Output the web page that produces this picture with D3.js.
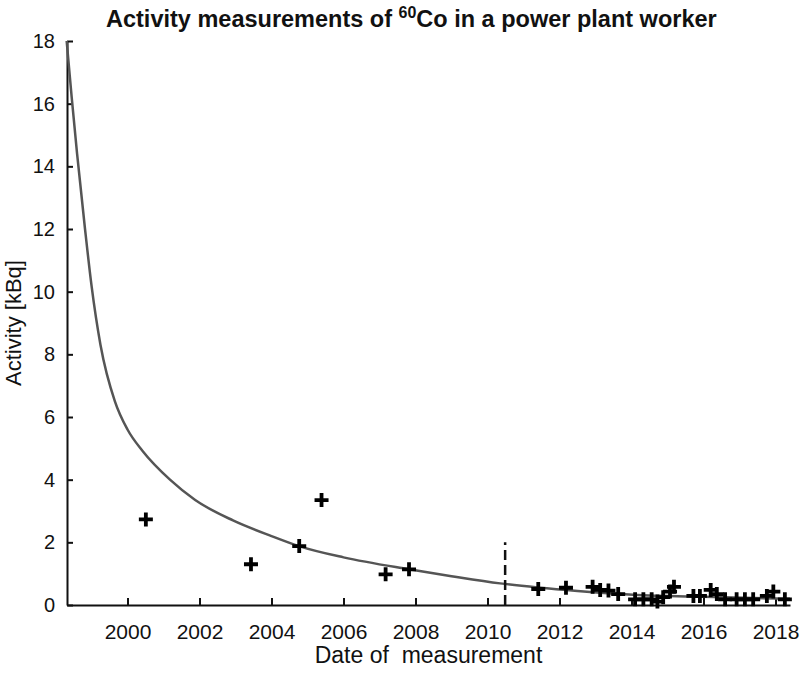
<!DOCTYPE html>
<html>
<head>
<meta charset="utf-8">
<script src="https://cdn.jsdelivr.net/npm/d3@7"></script>
<style>
  body { margin: 0; background: #fff; }
  svg text { font-family: "Liberation Sans", Arial, sans-serif; fill: #111; }
</style>
</head>
<body>
<div id="chart"></div>
<script>
// measurement dates (decimal year) and activity [kBq]
const measYears = [2000.51, 2003.43, 2004.77, 2005.39, 2007.17, 2007.82,
  2011.41, 2012.18, 2012.92, 2013.13, 2013.36, 2013.63, 2014.10, 2014.33,
  2014.56, 2014.72, 2014.88, 2015.07, 2015.18, 2015.72, 2015.90, 2016.20,
  2016.37, 2016.60, 2016.92, 2017.15, 2017.38, 2017.76, 2017.94, 2018.26];
const measValues = [2.73, 1.30, 1.88, 3.35, 0.98, 1.14,
  0.51, 0.55, 0.58, 0.48, 0.46, 0.35, 0.18, 0.18,
  0.18, 0.11, 0.25, 0.43, 0.58, 0.29, 0.29, 0.48,
  0.35, 0.18, 0.18, 0.18, 0.18, 0.29, 0.43, 0.18];

// fitted retention curve
const fitYears = [1998.31, 1998.45, 1998.6, 1998.82, 1999.0, 1999.25, 1999.65,
  2000.0, 2000.43, 2001.18, 2001.88, 2002.93, 2004.0, 2004.76, 2006.0,
  2007.82, 2009.0, 2010.35, 2011.4, 2012.5, 2014.04, 2016.0, 2018.4];
const fitValues = [18.0, 16.2, 14.4, 12.0, 10.2, 8.3, 6.5,
  5.6, 4.9, 4.0, 3.35, 2.7, 2.2, 1.88, 1.52,
  1.14, 0.92, 0.69, 0.56, 0.45, 0.33, 0.26, 0.2];

// dashed marker
const markYear = 2010.49;
const markTop = 2;

const xTicks = [2000, 2002, 2004, 2006, 2008, 2010, 2012, 2014, 2016, 2018];
const yTicks = [0, 2, 4, 6, 8, 10, 12, 14, 16, 18];

const width = 800, height = 674;
const plotL = 67, plotR = 790, plotT = 41, plotB = 605;

const svg = d3.select("#chart").append("svg")
  .attr("width", width)
  .attr("height", height);

const x = d3.scaleLinear()
  .domain([2000 - (127.5 - plotL) / 36, 2000 + (plotR - 127.5) / 36])
  .range([plotL, plotR]);
const y = d3.scaleLinear().domain([0, 18]).range([plotB, plotT]);

// axes with inward ticks
const xAxis = svg.append("g")
  .attr("transform", `translate(0,${plotB})`)
  .call(d3.axisBottom(x).tickValues(xTicks).tickFormat(d3.format("d"))
    .tickSizeInner(-7).tickSizeOuter(0).tickPadding(19));
const yAxis = svg.append("g")
  .attr("transform", `translate(${plotL},0)`)
  .call(d3.axisLeft(y).tickValues(yTicks)
    .tickSizeInner(-6).tickSizeOuter(0).tickPadding(12));

[xAxis, yAxis].forEach(g => {
  g.select(".domain").attr("stroke", "#111").attr("stroke-width", 2);
  g.selectAll(".tick line").attr("stroke", "#111").attr("stroke-width", 2);
  g.selectAll(".tick text").attr("fill", "#111");
});
xAxis.selectAll(".tick text").style("font-size", "21px");
yAxis.selectAll(".tick text").style("font-size", "20px");

// fitted curve
const line = d3.line()
  .x(d => x(d[0]))
  .y(d => y(d[1]))
  .curve(d3.curveMonotoneX);

svg.append("path")
  .datum(d3.zip(fitYears, fitValues))
  .attr("d", line)
  .attr("fill", "none")
  .attr("stroke", "#555")
  .attr("stroke-width", 2.5);

// dashed line
svg.append("line")
  .attr("x1", x(markYear)).attr("x2", x(markYear))
  .attr("y1", y(0)).attr("y2", y(markTop))
  .attr("stroke", "#111")
  .attr("stroke-width", 2.5)
  .attr("stroke-dasharray", "10,5");

// measurement crosses
const arm = 7;
svg.append("g").selectAll("path")
  .data(d3.zip(measYears, measValues))
  .join("path")
  .attr("d", d => {
    const cx = x(d[0]), cy = y(d[1]);
    return `M${cx - arm},${cy}H${cx + arm}M${cx},${cy - arm}V${cy + arm}`;
  })
  .attr("stroke", "#000")
  .attr("stroke-width", 3.8)
  .attr("fill", "none");

// title
const title = svg.append("text")
  .attr("x", 106)
  .attr("y", 27)
  .style("font-size", "23.5px")
  .style("font-weight", "bold");
title.append("tspan").text("Activity measurements of ");
title.append("tspan").attr("dy", -9).style("font-size", "16px").text("60");
title.append("tspan").attr("dy", 9).text("Co in a power plant worker");

// axis labels
svg.append("text")
  .attr("x", (plotL + plotR) / 2)
  .attr("y", 663)
  .attr("text-anchor", "middle")
  .style("font-size", "23px")
  .style("white-space", "pre")
  .text("Date of  measurement");

svg.append("text")
  .attr("transform", `translate(21,${(plotT + plotB) / 2}) rotate(-90)`)
  .attr("text-anchor", "middle")
  .style("font-size", "22px")
  .text("Activity [kBq]");
</script>
</body>
</html>
